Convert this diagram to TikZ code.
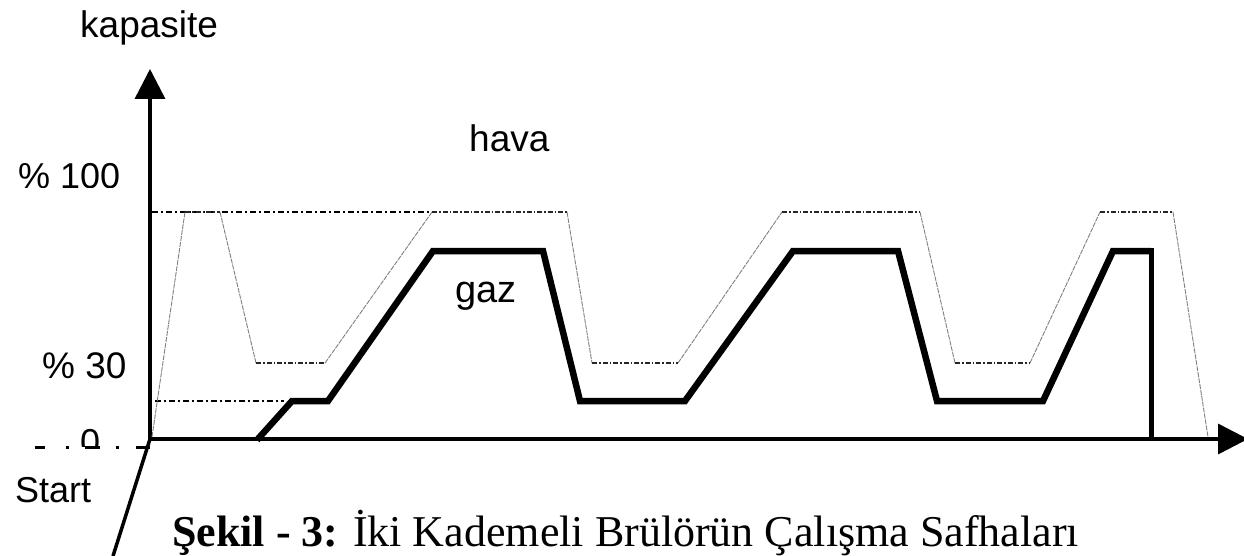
\documentclass[tikz,border=0pt]{standalone}
\usepackage{fontspec}
\setmainfont{Liberation Serif}
\newfontfamily\arialf{Liberation Sans}
\usetikzlibrary{arrows.meta}
\begin{document}
\begin{tikzpicture}[x=1pt,y=-1pt,
  axis/.style={line width=3.5pt,-{Triangle[length=30pt,width=30pt]}},
  gazline/.style={line width=6.5pt,line join=miter},
  havaline/.style={line width=0.9pt,gray,dash pattern=on 5pt off 1pt},
  havaflat/.style={line width=1.2pt,black!85,dash pattern=on 5pt off 2pt on 1.5pt off 2pt},
  refline/.style={line width=1.3pt,black,dash pattern=on 6pt off 3pt on 2pt off 3pt},
  lbl/.style={font=\arialf\fontsize{37}{42}\selectfont,inner sep=0pt,anchor=base west}]
\useasboundingbox (0,0) rectangle (1244,556);
% axes
\coordinate (O) at (150,439);
\coordinate (ytip) at (150,69);
\coordinate (xtip) at (1248,439);
\coordinate (slend) at (113,556);
\draw[axis] (O) -- (ytip);
\draw[axis] (O) -- (xtip);
\draw[line width=3.5pt] (O) -- (slend);
% reference lines
\coordinate (r100a) at (152,212);
\coordinate (r100b) at (432,212);
\coordinate (r30a) at (155,401);
\coordinate (r30b) at (284,401);
\draw[refline] (r100a) -- (r100b);
\draw[refline] (r30a) -- (r30b);
% hava
\draw[havaline] (152,437) -- (185,212) (220,212) -- (256,363) (325,363) -- (432,212)
  (567,212) -- (592,363) (678,363) -- (782,212) (920,212) -- (955,363) (1030,363) -- (1100,212)
  (1173,212) -- (1208,437);
\draw[havaflat] (185,212) -- (220,212) (256,363) -- (325,363) (432,212) -- (567,212)
  (592,363) -- (678,363) (782,212) -- (920,212) (955,363) -- (1030,363) (1100,212) -- (1173,212);
% gaz
\draw[gazline] (257,440) -- (292,401) -- (328,401) -- (433,251) -- (543,251) -- (580,401)
  -- (685,401) -- (793,251) -- (898,251) -- (937,401) -- (1043,401) -- (1113,251)
  -- (1151,251);
\draw[line width=5pt] (1151,248) -- (1151,440);
% origin dash-dot marks
\draw[line width=3pt] (35,447) -- (45,447) (66,447) -- (69,447) (85,447) -- (100,447)
  (116,447) -- (119,447) (136,447) -- (150,447);
% labels
\node[lbl] (kap) at (80,38) {kapasite};
\node[lbl] (hava) at (469,152) {hava};
\begin{scope}
  \clip (0,140) rectangle (140,188);
  \node[lbl,font=\arialf\fontsize{36}{42}\selectfont] (p100) at (18,189) {\% 100};
\end{scope}
\node[lbl,font=\arialf\fontsize{38}{42}\selectfont] (gaz) at (455,302) {gaz};
\node[lbl] (p30) at (42,378) {\% 30};
\begin{scope}
  \clip (60,415) rectangle (110,446);
  \node[lbl,font=\arialf\fontsize{36}{42}\selectfont] (zero) at (80,454) {0};
\end{scope}
\node[lbl,font=\arialf\fontsize{36}{42}\selectfont] (start) at (15,502) {Start};
\node[font=\fontsize{44}{50}\selectfont,inner sep=0pt,anchor=base west] (cap) at (172,546)
  {\textbf{Şekil - 3:} İki Kademeli Brülörün Çalışma Safhaları};
\end{tikzpicture}
\end{document}
